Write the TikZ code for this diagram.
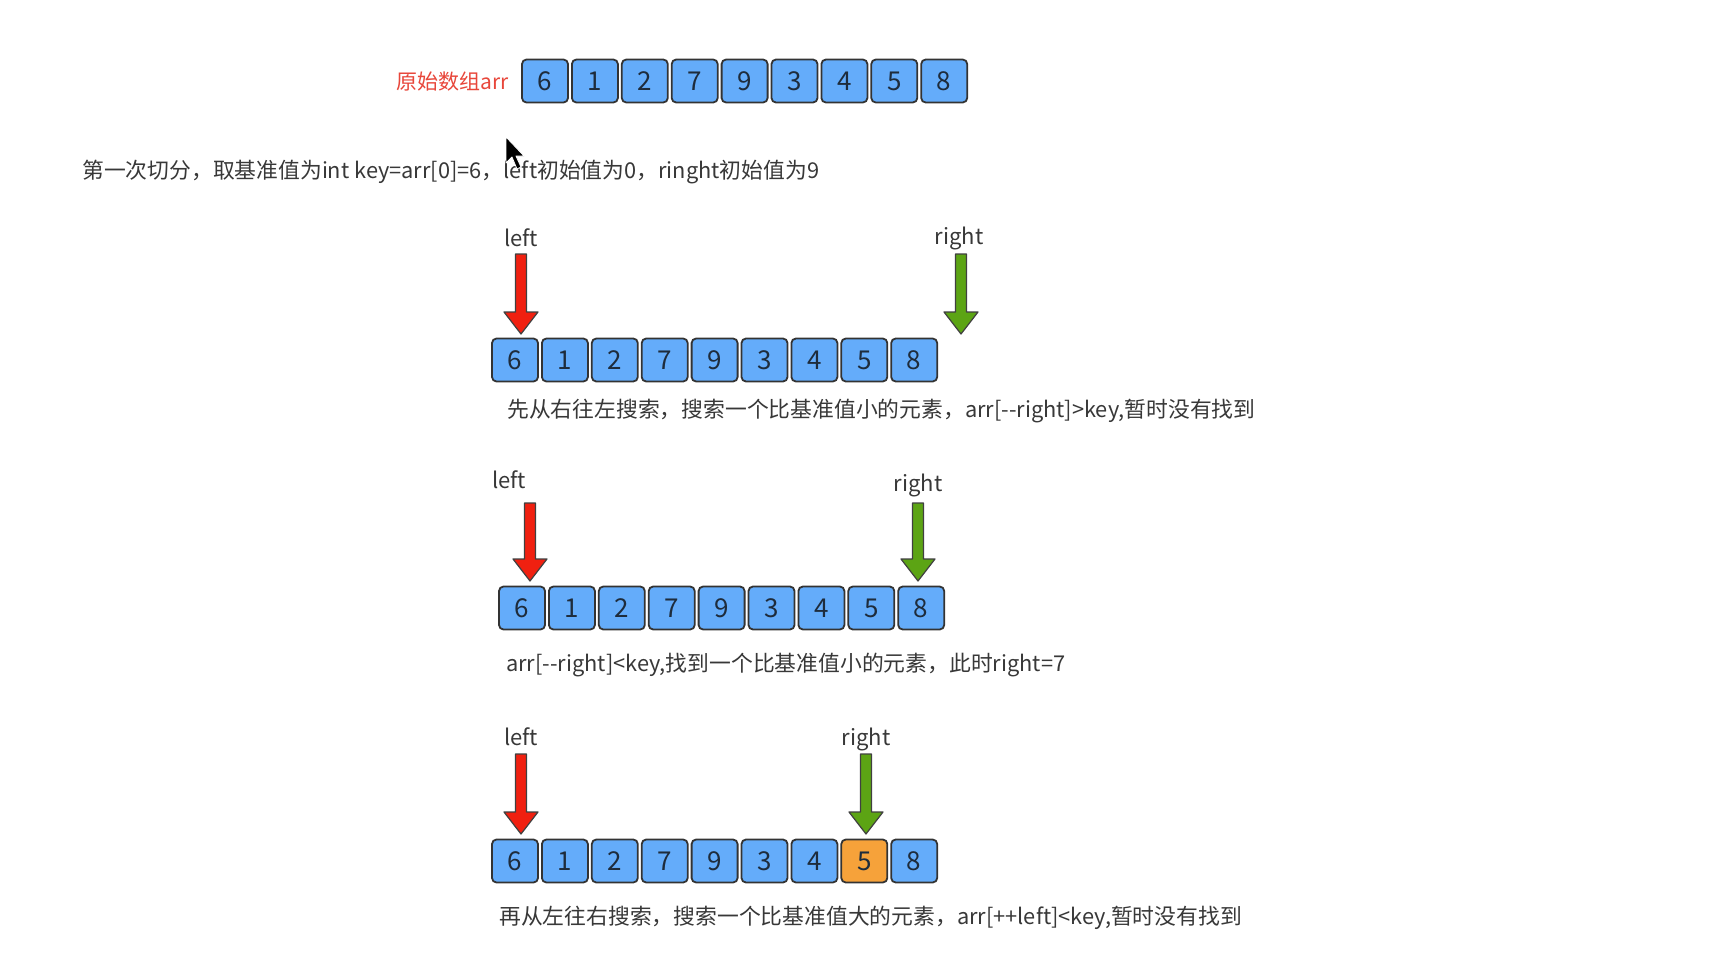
\documentclass[tikz,border=0pt]{standalone}
\usepackage{fontspec}
\setmainfont{Noto Sans CJK SC}
\begin{document}
\begin{tikzpicture}[x=1pt,y=-1pt,
  cell/.style={draw=black!80,line width=1.8pt,rounded corners=4.5pt,fill=cellblue,
     minimum width=46pt,minimum height=43pt,inner sep=0pt,text=digit,font=\fontsize{26}{26}\selectfont},
  hot/.style={fill=cellorange},
  caption/.style={anchor=west,text=black!78,font=\fontsize{21.8}{22}\selectfont,inner sep=0pt},
  ptr/.style={text=black!78,font=\fontsize{22}{22}\selectfont,inner sep=0pt},
  redarrow/.style={fill=arrred,draw=black!75,line width=1.2pt,line join=round},
  greenarrow/.style={fill=arrgreen,draw=black!75,line width=1.2pt,line join=round}]
\definecolor{cellblue}{RGB}{100,172,250}
\definecolor{cellorange}{RGB}{246,162,58}
\definecolor{digit}{RGB}{30,44,60}
\definecolor{arrred}{RGB}{240,32,16}
\definecolor{arrgreen}{RGB}{92,164,20}
\definecolor{lblred}{RGB}{232,70,58}
\useasboundingbox (0,0) rectangle (1717,954);
\fill[white] (0,0) rectangle (1717,954);
\newcommand{\dnarrow}[4]{% x, ytop, ytip, style
  \draw[#4] (#1-5.5,#2) -- (#1+5.5,#2) -- (#1+5.5,#3-22) -- (#1+17,#3-22) -- (#1,#3)
     -- (#1-17,#3-22) -- (#1-5.5,#3-22) -- cycle;}
\newcommand{\arrrow}[4]{% name, xleft, ycenter, orange index
  \foreach \v [count=\i] in {6,1,2,7,9,3,4,5,8}{
    \ifnum\i=#4
      \node[cell,hot] (#1-\i) at ({#2+24+(\i-1)*49.9},#3) {\v};
    \else
      \node[cell] (#1-\i) at ({#2+24+(\i-1)*49.9},#3) {\v};
    \fi}}
% top array
\node[anchor=east,text=lblred,font=\fontsize{21}{21}\selectfont,inner sep=0pt] (lab) at (509,82) {原始数组arr};
\arrrow{a}{521}{81}{0}
\node[caption] (c1) at (82,172) {第一次切分，取基准值为int key=arr[0]=6，left初始值为0，ringht初始值为9};
% cursor
\draw[fill=black,draw=white,line width=0.8pt,line join=round] (506,137) -- (506,163) -- (512,157) -- (517,169) -- (521,167) -- (516,156) -- (524,156) -- cycle;
% step 1
\arrrow{b}{491}{360}{0}
\node[ptr] (bl) at (521,238) {left};
\node[ptr] (br) at (959,238) {right};
\dnarrow{521}{254}{334}{redarrow}
\dnarrow{961}{254}{334}{greenarrow}
\node[caption] (c2) at (507,411) {先从右往左搜索，搜索一个比基准值小的元素，arr[-{}-right]>key,暂时没有找到};
% step 2
\arrrow{d}{498}{608}{0}
\node[ptr] (dl) at (509,480) {left};
\node[ptr] (dr) at (918,485) {right};
\dnarrow{530}{503}{581}{redarrow}
\dnarrow{918}{503}{581}{greenarrow}
\node[caption] (c3) at (506,665) {arr[-{}-right]<key,找到一个比基准值小的元素，此时right=7};
% step 3
\arrrow{e}{491}{861}{8}
\node[ptr] (el) at (521,737) {left};
\node[ptr] (er) at (866,739) {right};
\dnarrow{521}{754}{834}{redarrow}
\dnarrow{866}{754}{834}{greenarrow}
\node[caption] (c4) at (499,918) {再从左往右搜索，搜索一个比基准值大的元素，arr[++left]<key,暂时没有找到};
\end{tikzpicture}
\end{document}
